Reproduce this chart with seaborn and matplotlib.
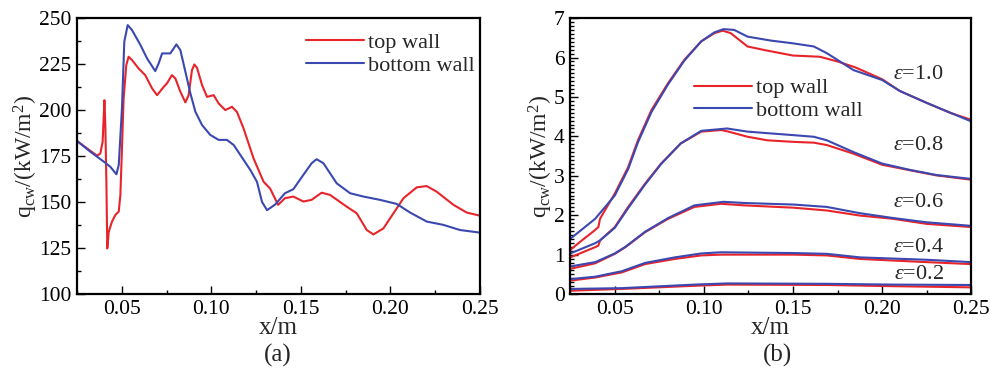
import numpy as np
import pandas as pd
import matplotlib
matplotlib.use("Agg")
import matplotlib.pyplot as plt
import seaborn as sns
from matplotlib.ticker import MultipleLocator

# ---------------- data: panel (a) ----------------
a_top_x = [0.025, 0.0306, 0.0362, 0.038, 0.0393, 0.0403, 0.0408, 0.0414, 0.0419, 0.0427, 0.0445,
           0.0464, 0.0483, 0.0492, 0.0501, 0.051, 0.0525, 0.0538, 0.0557, 0.0594, 0.0631, 0.0669,
           0.0697, 0.0734, 0.0752, 0.078, 0.0799, 0.0827, 0.0855, 0.0873, 0.0892, 0.0905, 0.092,
           0.0948, 0.0976, 0.1013, 0.1041, 0.1078, 0.1115, 0.1143, 0.118, 0.1236, 0.1292, 0.1328,
           0.1373, 0.1411, 0.1458, 0.1514, 0.1560, 0.1616, 0.1663, 0.1756, 0.1812, 0.1868, 0.1905,
           0.1961, 0.2017, 0.2073, 0.2147, 0.2203, 0.2259, 0.2352, 0.2426, 0.25]
a_top_y = [183.2, 179.2, 175.2, 176.4, 182.8, 205.4, 192, 161, 124.8, 133.8, 139.3,
           143, 144.8, 153.8, 179, 206, 224.4, 229, 227.2, 222.6, 219, 211.8,
           208.1, 212.6, 214.5, 219, 217.2, 210, 204.2, 208.1, 221.7, 224.8, 223,
           213.6, 207.2, 208.1, 203.6, 200, 201.8, 199, 190, 173.7, 161, 157.4,
           148.5, 152.1, 153, 150.3, 151.2, 155.1, 153.9, 147.5, 143.9, 134.8, 132.4,
           135.7, 143.9, 152.1, 158, 158.7, 155.6, 148.5, 144.3, 142.6]
a_bot_x = [0.025, 0.0324, 0.0399, 0.0436, 0.047, 0.0483, 0.0501, 0.0514, 0.0533, 0.0557, 0.0604,
           0.0641, 0.0687, 0.0706, 0.0725, 0.0743, 0.0771, 0.0805, 0.0827, 0.0855, 0.0883, 0.0911,
           0.0948, 0.0994, 0.1041, 0.1087, 0.1125, 0.1162, 0.1218, 0.1255, 0.1283, 0.1311, 0.1357,
           0.1411, 0.1458, 0.1514, 0.1560, 0.1588, 0.1626, 0.1700, 0.1775, 0.1849, 0.1942, 0.2035,
           0.2110, 0.2203, 0.2296, 0.2389, 0.25]
a_bot_y = [183.2, 177.4, 172, 169.2, 165.1, 170.2, 201, 237.2, 246.2, 243.5, 235.4,
           228.1, 221.2, 225.4, 230.8, 230.8, 230.8, 235.7, 232.6, 220.9, 209.1, 199.1,
           191.9, 186.5, 183.8, 183.8, 181, 175.6, 167.4, 161, 150.1, 145.6, 148.7,
           154.8, 157, 164.8, 171.1, 173.3, 171.1, 160.2, 154.8, 153, 151.2, 149,
           144.3, 139.4, 137.6, 134.8, 133.4]

# ---------------- data: panel (b) ----------------
eps_labels = ["1.0", "0.8", "0.6", "0.4", "0.2"]
b_x = {
    "1.0_top": [0.025, 0.0315, 0.038, 0.0408, 0.0417, 0.05, 0.0575, 0.063, 0.0706, 0.0799, 0.089,
                0.0985, 0.106, 0.1105, 0.115, 0.1245, 0.135, 0.15, 0.165, 0.175, 0.185, 0.2,
                0.21, 0.225, 0.238, 0.25],
    "1.0_bot": [0.025, 0.039, 0.05, 0.0575, 0.063, 0.0706, 0.0799, 0.089, 0.0985, 0.106, 0.111,
                0.117, 0.1245, 0.1375, 0.15, 0.1617, 0.169, 0.184, 0.2, 0.21, 0.225, 0.25],
    "0.8_top": [0.025, 0.039, 0.0408, 0.0417, 0.05, 0.0575, 0.067, 0.076, 0.087, 0.0985, 0.1096,
                0.113, 0.1245, 0.1356, 0.1505, 0.1617, 0.169, 0.184, 0.2, 0.2156, 0.2305, 0.25],
    "0.8_bot": [0.025, 0.039, 0.0417, 0.05, 0.0575, 0.067, 0.076, 0.087, 0.0985, 0.113, 0.1245,
                0.1505, 0.1617, 0.169, 0.184, 0.2, 0.2156, 0.2305, 0.25],
    "0.6_top": [0.025, 0.039, 0.05, 0.056, 0.067, 0.08, 0.0947, 0.1096, 0.1226, 0.1505, 0.169,
                0.1877, 0.206, 0.225, 0.25],
    "0.6_bot": [0.025, 0.039, 0.05, 0.056, 0.067, 0.08, 0.0947, 0.111, 0.1226, 0.1505, 0.169,
                0.1877, 0.206, 0.225, 0.25],
    "0.4_top": [0.025, 0.039, 0.054, 0.067, 0.0836, 0.0985, 0.1096, 0.1505, 0.169, 0.1877, 0.225, 0.25],
    "0.4_bot": [0.025, 0.039, 0.054, 0.067, 0.0836, 0.0985, 0.1096, 0.1505, 0.169, 0.1877, 0.225, 0.25],
    "0.2_top": [0.025, 0.054, 0.0947, 0.113, 0.169, 0.206, 0.25],
    "0.2_bot": [0.025, 0.054, 0.0947, 0.113, 0.169, 0.206, 0.25],
}
b_y = {
    "1.0_top": [1.12, 1.36, 1.59, 1.70, 1.91, 2.55, 3.22, 3.90, 4.67, 5.35, 5.94,
                6.41, 6.62, 6.68, 6.62, 6.28, 6.18, 6.05, 6.02, 5.9, 5.75, 5.45,
                5.15, 4.85, 4.6, 4.42],
    "1.0_bot": [1.40, 1.91, 2.50, 3.17, 3.85, 4.62, 5.32, 5.92, 6.41, 6.64, 6.72,
                6.70, 6.53, 6.43, 6.36, 6.28, 6.11, 5.68, 5.43, 5.15, 4.85, 4.38],
    "0.8_top": [0.93, 1.19, 1.23, 1.36, 1.70, 2.21, 2.80, 3.31, 3.82, 4.12, 4.16,
                4.13, 3.99, 3.90, 3.86, 3.84, 3.78, 3.56, 3.28, 3.14, 3.01, 2.90],
    "0.8_bot": [1.03, 1.29, 1.36, 1.68, 2.18, 2.78, 3.30, 3.82, 4.14, 4.20, 4.12,
                4.03, 3.99, 3.90, 3.60, 3.31, 3.15, 3.02, 2.92],
    "0.6_top": [0.64, 0.78, 1.02, 1.19, 1.57, 1.91, 2.21, 2.29, 2.25, 2.19, 2.12,
                1.99, 1.91, 1.78, 1.70],
    "0.6_bot": [0.70, 0.81, 1.03, 1.20, 1.58, 1.93, 2.25, 2.34, 2.31, 2.27, 2.21,
                2.05, 1.93, 1.82, 1.73],
    "0.4_top": [0.34, 0.42, 0.55, 0.76, 0.89, 0.98, 1.00, 1.00, 0.98, 0.89, 0.81, 0.76],
    "0.4_bot": [0.38, 0.44, 0.58, 0.79, 0.93, 1.03, 1.06, 1.04, 1.02, 0.93, 0.87, 0.81],
    "0.2_top": [0.085, 0.13, 0.21, 0.24, 0.23, 0.20, 0.17],
    "0.2_bot": [0.13, 0.15, 0.24, 0.27, 0.26, 0.24, 0.23],
}
eps_text_y = [5.56, 3.78, 2.33, 1.19, 0.49]

series_names = ["top wall", "bottom wall"]
colors = {"top wall": "#e8242b", "bottom wall": "#3b48b0"}

# ---------------- style ----------------
sns.set_style("ticks")
plt.rcParams["font.family"] = ["Liberation Serif", "DejaVu Serif"]
plt.rcParams["mathtext.fontset"] = "custom"
plt.rcParams["mathtext.rm"] = "Liberation Serif"
plt.rcParams["mathtext.it"] = "Liberation Serif:italic"
plt.rcParams["axes.linewidth"] = 1.6

fig = plt.figure(figsize=(9.9, 3.77), dpi=100)
ax1 = fig.add_axes([0.0778, 0.22, 0.407, 0.732])
ax2 = fig.add_axes([0.576, 0.22, 0.405, 0.732])

legend_kw = dict(frameon=False, fontsize=16, handlelength=2.6, handletextpad=0.2,
                 labelspacing=0.1, borderpad=0, borderaxespad=0, loc="center left")

# panel (a)
df_a = pd.concat([
    pd.DataFrame({"x": a_top_x, "q": a_top_y, "wall": "top wall"}),
    pd.DataFrame({"x": a_bot_x, "q": a_bot_y, "wall": "bottom wall"}),
])
sns.lineplot(data=df_a, x="x", y="q", hue="wall", hue_order=series_names,
             palette=colors, sort=False, estimator=None, units="wall",
             lw=1.5, ax=ax1)
ax1.set_xlim(0.025, 0.25)
ax1.set_ylim(100, 250)
ax1.yaxis.set_major_locator(MultipleLocator(25))
ax1.yaxis.set_minor_locator(MultipleLocator(12.5))
ax1.legend(bbox_to_anchor=(0.568, 0.87), **legend_kw)

# panel (b)
rows = []
for e in eps_labels:
    for key, name in (("top", "top wall"), ("bot", "bottom wall")):
        k = f"{e}_{key}"
        rows.append(pd.DataFrame({"x": b_x[k], "q": b_y[k], "wall": name, "eps": e}))
df_b = pd.concat(rows)
df_b["unit"] = df_b["eps"] + df_b["wall"]
sns.lineplot(data=df_b, x="x", y="q", hue="wall", hue_order=series_names,
             palette=colors, units="unit", estimator=None, sort=False,
             lw=1.5, ax=ax2)
ax2.set_xlim(0.025, 0.25)
ax2.set_ylim(0, 7)
ax2.yaxis.set_major_locator(MultipleLocator(1))
ax2.yaxis.set_minor_locator(MultipleLocator(0.1))
ax2.legend(bbox_to_anchor=(0.308, 0.705), **legend_kw)
for e, ty in zip(eps_labels, eps_text_y):
    ax2.text(0.2204, ty, r"$\varepsilon$=" + e, fontsize=16, ha="center", va="center")

for ax in (ax1, ax2):
    ax.xaxis.set_major_locator(MultipleLocator(0.05))
    ax.xaxis.set_minor_locator(MultipleLocator(0.025))
    ax.xaxis.set_major_formatter(matplotlib.ticker.FormatStrFormatter("%.2f"))
    ax.tick_params(which="both", direction="in", top=False, right=False,
                   labelsize=15.5, width=1.0, colors="black")
    ax.tick_params(which="major", length=6, pad=4)
    ax.tick_params(which="minor", length=3)
    ax.set_xlabel("x/m", fontsize=18, labelpad=-1)
    ax.set_ylabel(r"q$_{\mathrm{cw}}$/(kW/m$^{2}$)", fontsize=17, labelpad=-1)
    for s in ax.spines.values():
        s.set_visible(True)
        s.set_color("black")

fig.text(0.281, 0.058, "(a)", ha="center", va="center", fontsize=18)
fig.text(0.785, 0.058, "(b)", ha="center", va="center", fontsize=18)

fig.savefig("out.png", dpi=100)
